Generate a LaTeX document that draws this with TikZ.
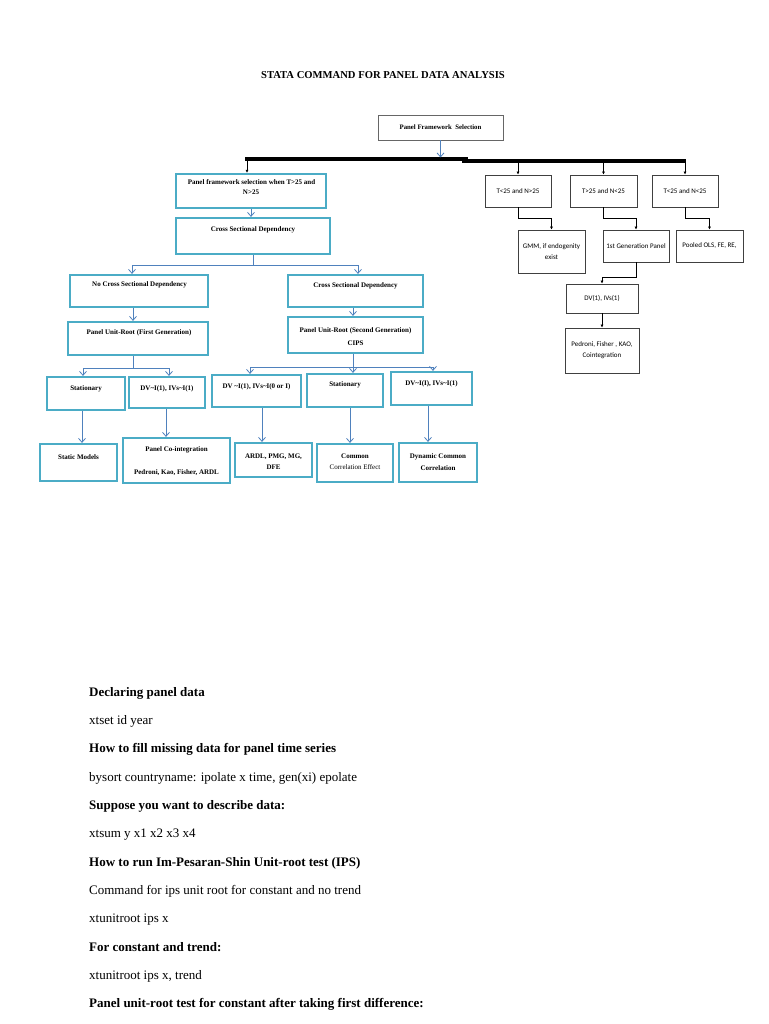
\documentclass[tikz,border=0pt]{standalone}
\usepackage{fontspec}
\setmainfont{Liberation Serif}
\newfontfamily\calfont{Carlito}
\usetikzlibrary{arrows.meta,fit,calc}
\definecolor{aqua}{HTML}{4BACC6}
\definecolor{lnblue}{HTML}{4F81BD}
\definecolor{dgray}{HTML}{404040}
\newcommand{\tld}{\textasciitilde}
\begin{document}
\begin{tikzpicture}[x=1pt,y=-1pt,
  lbox/.style={draw=aqua, line width=2.2pt, inner sep=0pt},
  rbox/.style={draw=dgray, line width=0.9pt, inner sep=0pt},
  tbox/.style={draw=dgray!80, line width=0.8pt, inner sep=0pt},
  ltxt/.style={font=\fontsize{7}{9}\selectfont\bfseries, align=center, inner sep=0pt},
  rtxt/.style={font=\calfont\fontsize{7}{11}\selectfont, align=center, inner sep=0pt},
  barrow/.style={draw=lnblue, line width=0.8pt, -{Straight Barb[length=4pt,width=7pt]}},
  bline/.style={draw=lnblue, line width=0.8pt},
  karrow/.style={draw=black, line width=0.8pt, -{Latex[length=3pt,width=3pt]}},
  kline/.style={draw=black, line width=0.8pt},
  head/.style={font=\fontsize{13}{15}\selectfont\bfseries, anchor=base west, inner sep=0pt},
  body/.style={font=\fontsize{13}{15}\selectfont, anchor=base west, inner sep=0pt}]
\fill[white] (0,0) rectangle (768,1024);
\useasboundingbox (0,0) rectangle (768,1024);

% title
\node[font=\fontsize{10.6}{12}\selectfont\bfseries, inner sep=0pt] (title) at (383,75) {STATA COMMAND FOR PANEL DATA ANALYSIS};

% top box and bar
\node[tbox, fit={(378,115) (503,140)}] (top) {};
\node[font=\fontsize{6.8}{8}\selectfont\bfseries, inner sep=0pt] (ttop) at (top.center) {Panel Framework\ \ Selection};
\draw[black, line width=4pt] (245,159.5) coordinate (barL) -- (468,159.5) coordinate (barM);
\draw[black, line width=4pt] (462,161.5) coordinate (barM2) -- (686,161.5) coordinate (barR);
\coordinate (hit) at (440.5,157.5);
\draw[barrow] (top.south) -- (hit);

% left tree
\node[lbox, fit={(176,174) (326,208)}] (b1) {};
\node[ltxt] (t1a) at (251.5,182.5) {Panel framework selection when T>25 and};
\node[ltxt] (t1b) at (251,192.5) {N>25};
\node[lbox, fit={(176,218) (330,254)}] (b2) {};
\node[ltxt] (t2) at (253,230) {Cross Sectional Dependency};

\node[lbox, fit={(70,275) (208,307)}] (b3) {};
\node[ltxt] (t3) at (139.5,285) {No Cross Sectional Dependency};
\node[lbox, fit={(288,275) (423,307)}] (b4) {};
\node[ltxt] (t4) at (355.5,286) {Cross Sectional Dependency};

\node[lbox, fit={(68,322) (208,355)}] (b5) {};
\node[ltxt] (t5) at (139,333) {Panel Unit-Root (First Generation)};
\node[lbox, fit={(288,317) (423,353)}] (b6) {};
\node[ltxt] (t6a) at (355.5,331) {Panel Unit-Root (Second Generation)};
\node[ltxt] (t6b) at (355.5,343) {CIPS};

\node[lbox, fit={(47,377) (125,410)}] (b7) {};
\node[ltxt] (t7) at (86,389) {Stationary};
\node[lbox, fit={(129,377) (205,408)}] (b8) {};
\node[ltxt] (t8) at (167,389) {DV\tld I(1), IVs\tld I(1)};
\node[lbox, fit={(212,375) (301,407)}] (b9) {};
\node[ltxt] (t9) at (256.5,387) {DV \tld I(1), IVs\tld I(0 or I)};
\node[lbox, fit={(307,374) (383,407)}] (b10) {};
\node[ltxt] (t10) at (345,385) {Stationary};
\node[lbox, fit={(391,372) (472,405)}] (b11) {};
\node[ltxt] (t11) at (431.5,384) {DV\tld I(I), IVs\tld I(1)};

\node[lbox, fit={(40,444) (117,481)}] (b12) {};
\node[ltxt] (t12) at (78.5,457) {Static Models};
\node[lbox, fit={(123,438) (230,483)}] (b13) {};
\node[ltxt] (t13a) at (176.5,450) {Panel Co-integration};
\node[ltxt] (t13b) at (176.5,473) {Pedroni, Kao, Fisher, ARDL};
\node[lbox, fit={(235,443) (312,477)}] (b14) {};
\node[ltxt] (t14a) at (273.5,457) {ARDL, PMG, MG,};
\node[ltxt] (t14b) at (273.5,467.5) {DFE};
\node[lbox, fit={(317,444) (393,482)}] (b15) {};
\node[ltxt] (t15a) at (355,456.5) {Common};
\node[ltxt, font=\fontsize{7}{9}\selectfont] (t15b) at (355,467.5) {Correlation Effect};
\node[lbox, fit={(399,443) (477,482)}] (b16) {};
\node[ltxt] (t16a) at (438,457) {Dynamic Common};
\node[ltxt] (t16b) at (438,468.5) {Correlation};

% left connectors
\coordinate (dl) at (247,161.5);
\draw[karrow] (dl) -- (dl |- b1.north);
\draw[barrow] (b1.south) -- (b1.south |- b2.north);
\draw[bline] (b2.south) -- ++(0,10.5) coordinate (s1);
\draw[barrow] (s1) -| ([xshift=-7pt]b3.north);
\draw[barrow] (s1) -| ([xshift=2.5pt]b4.north);
\draw[barrow] ([xshift=-6pt]b3.south) -- ([xshift=-6pt]b3.south |- b5.north);
\draw[barrow] ([xshift=-2.5pt]b4.south) -- ([xshift=-2.5pt]b4.south |- b6.north);
\draw[bline] ([xshift=-5pt]b5.south) -- ++(0,12) coordinate (s2);
\draw[barrow] (s2) -| ([xshift=-3pt]b7.north);
\draw[barrow] (s2) -| ([xshift=2pt]b8.north);
\draw[bline] ([xshift=-2.5pt]b6.south) -- ++(0,13) coordinate (s3);
\draw[barrow] (s3) -| ([xshift=-6.5pt]b9.north);
\draw[barrow] (s3) -| ([xshift=8pt]b10.north);
\draw[barrow] (s3) -| ([xshift=1.5pt]b11.north);
\draw[barrow] ([xshift=-4pt]b7.south) -- ([xshift=-4pt]b7.south |- b12.north);
\draw[barrow] ([xshift=-1pt]b8.south) -- ([xshift=-1pt]b8.south |- b13.north);
\draw[barrow] ([xshift=5.5pt]b9.south) -- ([xshift=5.5pt]b9.south |- b14.north);
\draw[barrow] ([xshift=5pt]b10.south) -- ([xshift=5pt]b10.south |- b15.north);
\draw[barrow] ([xshift=-3.5pt]b11.south) -- ([xshift=-3.5pt]b11.south |- b16.north);

% right side
\node[rbox, fit={(485,175) (551,207)}] (r1) {};
\node[rtxt] (u1) at (r1.center) {T<25 and N>25};
\node[rbox, fit={(570,175) (637,207)}] (r2) {};
\node[rtxt] (u2) at (r2.center) {T>25 and N<25};
\node[rbox, fit={(652,175) (718,207)}] (r3) {};
\node[rtxt] (u3) at (r3.center) {T<25 and N<25};
\node[rbox, fit={(518,230) (585,273)}] (r4) {};
\node[rtxt] (u4) at (r4.center) {GMM, if endogenity\\exist};
\node[rbox, fit={(603,230) (669,262)}] (r5) {};
\node[rtxt] (u5) at (r5.center) {1st Generation Panel};
\node[rbox, fit={(676,230) (743,262)}] (r6) {};
\node[rtxt] (u6) at (r6.center) {Pooled OLS, FE, RE,};
\node[rbox, fit={(566,284) (638,313)}] (r7) {};
\node[rtxt] (u7) at (r7.center) {DV(1), IVs(1)};
\node[rbox, fit={(565,328) (639,373)}] (r8) {};
\node[rtxt] (u8) at (r8.center) {Pedroni, Fisher , KAO,\\Cointegration};

\draw[karrow] (r1.north |- barR) -- (r1.north);
\draw[karrow] (r2.north |- barR) -- (r2.north);
\draw[karrow] (r3.north |- barR) -- (r3.north);
\draw[karrow] (r1.south) -- ++(0,11) -| (r4.north);
\draw[karrow] (r2.south) -- ++(0,11) -| (r5.north);
\draw[karrow] (r3.south) -- ++(0,11) -| (r6.north);
\draw[karrow] (r5.south) -- ++(0,15) -| (r7.north);
\draw[karrow] (r7.south) -- (r8.north);

% text below
\node[head] (h1) at (89,696) {Declaring panel data};
\node[body] (l1) at (89,724.4) {xtset id year};
\node[head] (h2) at (89,752.7) {How to fill missing data for panel time series};
\node[body] (l2) at (89,781.1) {bysort countryname: ipolate x time, gen(xi) epolate};
\node[head] (h3) at (89,809.4) {Suppose you want to describe data:};
\node[body] (l3) at (89,837.8) {xtsum y x1 x2 x3 x4};
\node[head] (h4) at (89,866.1) {How to run Im-Pesaran-Shin Unit-root test (IPS)};
\node[body] (l4) at (89,894.5) {Command for ips unit root for constant and no trend};
\node[body] (l5) at (89,922.8) {xtunitroot ips x};
\node[head] (h5) at (89,951.2) {For constant and trend:};
\node[body] (l6) at (89,979.5) {xtunitroot ips x, trend};
\node[head] (h6) at (89,1007.9) {Panel unit-root test for constant after taking first difference:};
\end{tikzpicture}
\end{document}
